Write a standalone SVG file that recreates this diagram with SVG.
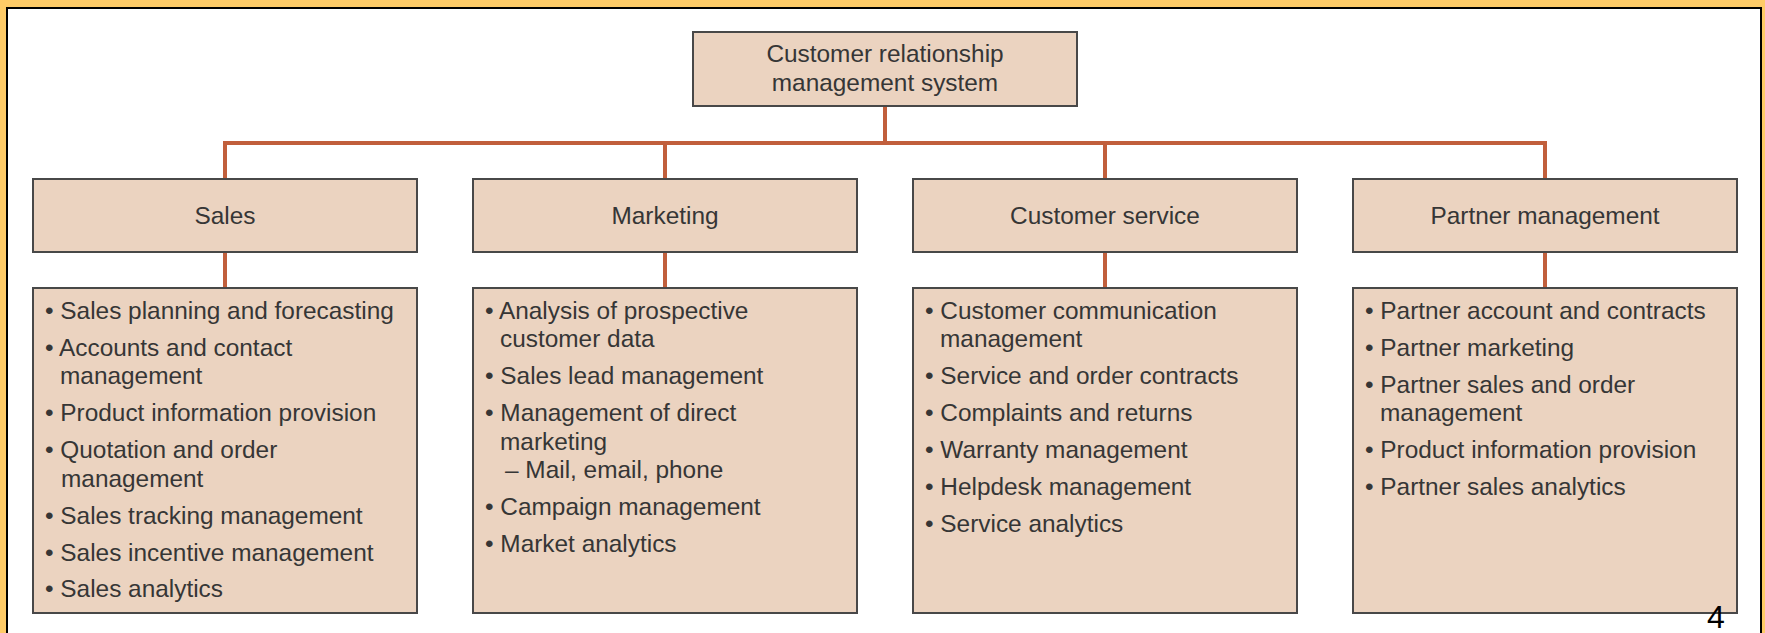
<svg xmlns="http://www.w3.org/2000/svg" width="1765" height="633" viewBox="0 0 1765 633">
<style>
.box{fill:#EBD3C0;stroke:#484848;stroke-width:2}
.t{font-family:"Liberation Sans",Arial,Helvetica,sans-serif;font-size:24.4px;fill:#363636}
.c{text-anchor:middle}
.conn{stroke:#C15F3C;stroke-width:4;fill:none}
</style>
<rect x="0" y="0" width="1765" height="633" fill="#FECB67"/>
<rect x="7" y="8" width="1754" height="640" fill="#FFFFFF" stroke="#000000" stroke-width="2"/>
<g id="connectors">
<path class="conn" d="M885 106V143M225 179V143H1545V179M665 143V179M1105 143V179"/>
<path class="conn" d="M225 252V288M665 252V288M1105 252V288M1545 252V288"/>
</g>
<g id="root">
<rect class="box" x="693" y="32" width="384" height="74"/>
<text class="t c" x="885" y="61.5">Customer relationship</text>
<text class="t c" x="885" y="90.5">management system</text>
</g>
<g id="sales">
<rect class="box" x="33" y="179" width="384" height="73"/>
<text class="t c" x="225" y="223.5">Sales</text>
</g>
<g id="marketing">
<rect class="box" x="473" y="179" width="384" height="73"/>
<text class="t c" x="665" y="223.5">Marketing</text>
</g>
<g id="customer-service">
<rect class="box" x="913" y="179" width="384" height="73"/>
<text class="t c" x="1105" y="223.5">Customer service</text>
</g>
<g id="partner-management">
<rect class="box" x="1353" y="179" width="384" height="73"/>
<text class="t c" x="1545" y="223.5">Partner management</text>
</g>
<g id="sales-list">
<rect class="box" x="33" y="288" width="384" height="325"/>
<text class="t" x="45" y="318.5">• Sales planning and forecasting</text>
<text class="t" x="45" y="355.5">• Accounts and contact</text>
<text class="t" x="60" y="384">management</text>
<text class="t" x="45" y="421">• Product information provision</text>
<text class="t" x="45" y="458">• Quotation and order</text>
<text class="t" x="61" y="486.5">management</text>
<text class="t" x="45" y="523.5">• Sales tracking management</text>
<text class="t" x="45" y="560.5">• Sales incentive management</text>
<text class="t" x="45" y="597">• Sales analytics</text>
</g>
<g id="marketing-list">
<rect class="box" x="473" y="288" width="384" height="325"/>
<text class="t" x="485" y="318.5">• Analysis of prospective</text>
<text class="t" x="500" y="347">customer data</text>
<text class="t" x="485" y="384">• Sales lead management</text>
<text class="t" x="485" y="421">• Management of direct</text>
<text class="t" x="500" y="449.5">marketing</text>
<text class="t" x="505" y="478">– Mail, email, phone</text>
<text class="t" x="485" y="515">• Campaign management</text>
<text class="t" x="485" y="552">• Market analytics</text>
</g>
<g id="customer-service-list">
<rect class="box" x="913" y="288" width="384" height="325"/>
<text class="t" x="925" y="318.5">• Customer communication</text>
<text class="t" x="940" y="347">management</text>
<text class="t" x="925" y="384">• Service and order contracts</text>
<text class="t" x="925" y="421">• Complaints and returns</text>
<text class="t" x="925" y="458">• Warranty management</text>
<text class="t" x="925" y="495">• Helpdesk management</text>
<text class="t" x="925" y="532">• Service analytics</text>
</g>
<g id="partner-list">
<rect class="box" x="1353" y="288" width="384" height="325"/>
<text class="t" x="1365" y="318.5">• Partner account and contracts</text>
<text class="t" x="1365" y="355.5">• Partner marketing</text>
<text class="t" x="1365" y="392.5">• Partner sales and order</text>
<text class="t" x="1380" y="421">management</text>
<text class="t" x="1365" y="458">• Product information provision</text>
<text class="t" x="1365" y="495">• Partner sales analytics</text>
</g>
<text x="1707" y="628" font-family="Liberation Sans,Arial,sans-serif" font-size="32" fill="#000000">4</text>
</svg>
